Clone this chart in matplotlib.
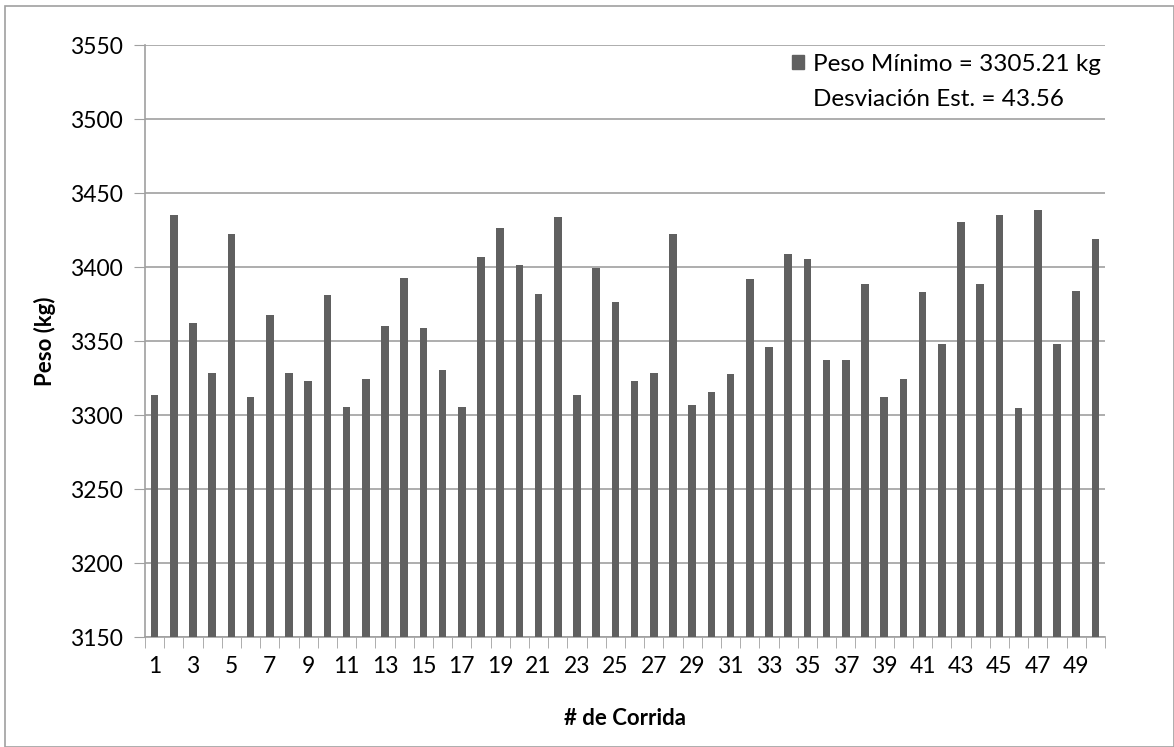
import numpy as np
import matplotlib.pyplot as plt
from matplotlib.patches import Rectangle, Patch

plt.rcParams['font.family'] = ['Lato', 'DejaVu Sans']

# Peso de cada corrida (kg)
corridas = list(range(1, 51))
pesos = [3313.2, 3435.2, 3362.1, 3328.4, 3422.1, 3312.0, 3367.8, 3328.4, 3323.0, 3380.8,
         3305.2, 3324.2, 3360.1, 3392.7, 3359.0, 3330.7, 3305.2, 3406.6, 3426.2, 3401.2,
         3381.7, 3434.0, 3313.2, 3399.4, 3376.1, 3322.8, 3328.4, 3422.1, 3306.6, 3315.4,
         3327.5, 3391.6, 3345.7, 3408.9, 3405.7, 3337.2, 3337.2, 3388.2, 3312.0, 3324.2,
         3382.8, 3348.0, 3430.7, 3388.2, 3435.2, 3304.6, 3438.3, 3348.0, 3383.9, 3418.8]
etiquetas_x = [str(c) for c in corridas[::2]]
ticks_y = list(range(3150, 3551, 50))

fig = plt.figure(figsize=(11.74, 7.47), dpi=100)
ax = fig.add_axes([145/1174, 1 - 637/747, 960/1174, 592/747])

# Marco exterior del gráfico
fig.patches.append(Rectangle((5/1174, 0), 1 - 5/1174, 1 - 6/747, transform=fig.transFigure,
                             fill=False, edgecolor='#a0a0a0', lw=1.2))

ax.bar(corridas, np.array(pesos) - 3150, bottom=3150, width=0.4, color='#606060', zorder=3)

ax.set_ylim(3150, 3550)
ax.set_xlim(0.5, 50.5)
ax.set_yticks(ticks_y)
ax.set_yticklabels([str(t) for t in ticks_y], fontsize=16.5)
ax.set_xticks(corridas[::2])
ax.set_xticklabels(etiquetas_x, fontsize=16.5)
ax.set_xticks(np.arange(0.5, 51, 1), minor=True)
ax.tick_params(axis='x', which='major', length=0, pad=14)
ax.tick_params(axis='x', which='minor', length=8, color='#a0a0a0', direction='out')
ax.tick_params(axis='y', length=8, color='#a0a0a0', pad=8)

ax.grid(axis='y', color='#a0a0a0', lw=1.2, zorder=0)
for s in ['top', 'right']:
    ax.spines[s].set_visible(False)
for s in ['left', 'bottom']:
    ax.spines[s].set_color('#a0a0a0')
    ax.spines[s].set_linewidth(1.2)

ax.set_ylabel('Peso (kg)', fontsize=16, fontweight='bold', labelpad=10)
ax.set_xlabel('# de Corrida', fontsize=16, fontweight='bold', labelpad=22)

handles = [Patch(color='#606060'), Patch(color='none')]
leg = ax.legend(handles, ['Peso Mínimo = 3305.21 kg', 'Desviación Est. = 43.56'],
                loc='upper right', bbox_to_anchor=(1.012, 1.012), fontsize=17.5,
                frameon=False, handlelength=0.5, handleheight=0.5, handletextpad=0.35,
                labelspacing=0.6, borderpad=0.15)
leg.set_zorder(5)

fig.savefig('out.png', dpi=100)
